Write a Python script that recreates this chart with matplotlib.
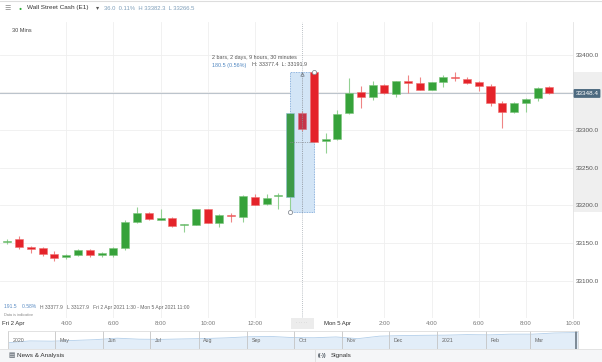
import matplotlib.pyplot as plt
import numpy as np
from matplotlib.patches import Rectangle
import matplotlib.transforms as mtrans

plt.rcParams['font.family'] = ['Liberation Sans', 'DejaVu Sans']

# 30 min candles, Fri 2 Apr 1:30 -> Mon 5 Apr 9:00
opens = [33151, 33155.5, 33145.3, 33143.2, 33135.3, 33131.3, 33133.9, 33140.6, 33134.6, 33134.3,
         33143.2, 33178, 33190.4, 33181, 33183, 33173.8, 33174, 33194.9, 33177.1, 33187.7,
         33184.7, 33211.6, 33201.5, 33212, 33211.6, 33322.1, 33377.4, 33285.4, 33287.7, 33322.1,
         33349.9, 33343.7, 33359.6, 33348.1, 33364, 33361.9, 33353, 33364, 33370.6, 33367.6,
         33363.2, 33358.3, 33335.4, 33323.5, 33335.4, 33342, 33356.6]
highs = [33156, 33159.5, 33146.5, 33144.5, 33139.6, 33135.5, 33142, 33142, 33137.7, 33144.5,
         33180.7, 33198.3, 33191.7, 33195, 33185, 33176, 33195.5, 33195.5, 33188, 33189.6,
         33213.8, 33214.8, 33214.8, 33216.9, 33323, 33325, 33377.4, 33296.4, 33326.5, 33368.5,
         33358.3, 33365.3, 33360.5, 33365, 33372.9, 33369.8, 33363.8, 33372.9, 33376.5, 33370.6,
         33364.4, 33361, 33338.4, 33337.5, 33342.5, 33356.5, 33358.3]
lows = [33149, 33142, 33136.6, 33133, 33126.8, 33129.5, 33133, 33131.3, 33132, 33131.3,
        33141, 33177, 33180.8, 33180.5, 33171.9, 33164.4, 33173.5, 33176.5, 33171.9, 33178.5,
        33178.5, 33200, 33201, 33194.9, 33191.9, 33298, 33284.5, 33270, 33287, 33321.5,
        33329.6, 33339.8, 33348, 33343.3, 33349.4, 33352.5, 33352.5, 33357.4, 33365, 33360.5,
        33352.1, 33332.2, 33303, 33322.5, 33323.5, 33338.8, 33347.5]
closes = [33153, 33144.5, 33142.7, 33135.3, 33130.4, 33134.8, 33141, 33134, 33135.8, 33143.6,
          33178.5, 33190.4, 33181.6, 33183, 33173.2, 33175, 33194.9, 33177.1, 33187.3, 33186,
          33212.5, 33200.6, 33209.9, 33213.2, 33322.1, 33300.9, 33284.5, 33287.6, 33321.2, 33348.6,
          33344.1, 33359.6, 33348.6, 33364.5, 33362.7, 33353, 33363.2, 33370.6, 33368.5, 33361.9,
          33358.7, 33335.4, 33323.5, 33335.4, 33341.5, 33355.7, 33348.6]
selected = [24, 25]

time_ticks = [5, 9, 13, 17, 21, 28, 32, 36, 40, 44, 48]
time_labels = ['4:00', '6:00', '8:00', '10:00', '12:00', 'Mon 5 Apr', '2:00', '4:00', '6:00', '8:00', '10:00']
price_ticks = [33100, 33150, 33200, 33250, 33300, 33350, 33400]
last_price = 33348.4
measure_lo, measure_hi = 33191.9, 33377.4

# navigator (Apr 2020 - Mar 2021)
nav_days = [0, 14, 28, 42, 56, 70, 84, 98, 112, 126, 140, 154, 168, 182, 196, 210, 224, 238,
            252, 266, 280, 294, 308, 322, 336, 350, 365]
nav_vals = [21900, 24000, 23700, 24500, 25400, 27000, 25900, 25700, 26200, 26600, 27400, 28600,
            29000, 27700, 27500, 28400, 26500, 29300, 29900, 30200, 30400, 31000, 30700, 31500,
            31500, 32800, 33300]
month_days = [0, 30, 61, 91, 122, 153, 183, 214, 244, 275, 306, 334]
month_labels = ['2020', 'May', 'Jun', 'Jul', 'Aug', 'Sep', 'Oct', 'Nov', 'Dec', '2021', 'Feb', 'Mar']

W, H = 602, 362


def rect(x0, y0, x1, y1):
    return [x0 / W, 1 - y1 / H, (x1 - x0) / W, (y1 - y0) / H]


def fy(y):
    return 1 - y / H


GREEN, RED = '#36a23a', '#e4232a'
GREEN_W, RED_W = '#93d193', '#ef8585'

fig = plt.figure(figsize=(W / 100, H / 100), dpi=100)

# main chart
ax = fig.add_axes(rect(0, 22, 573, 318))
ax.set_xlim(-0.62, 47.94)
ax.set_ylim(33050.8, 33443.1)
ax.grid(color='#efefef', lw=0.6, zorder=0)
ax.set_axisbelow(True)
for s in ['top', 'left', 'bottom']:
    ax.spines[s].set_visible(False)
ax.spines['right'].set_color('#e3e3e3')
ax.spines['right'].set_linewidth(0.6)

ax.yaxis.tick_right()
ax.set_yticks(price_ticks)
ax.set_yticklabels(['%.1f' % p for p in price_ticks])
ax.tick_params(axis='y', length=0, pad=2, labelsize=4.6, labelcolor='#555555')
ax.set_xticks(time_ticks)
ax.set_xticklabels(time_labels)
ax.tick_params(axis='x', length=0, pad=2.2, labelsize=4.3, labelcolor='#777777')
ax.get_xticklabels()[5].set_color('#333333')

# crosshair and measure box (under the candles)
ax.axvline(25, color='#a5acb3', lw=0.6, ls=(0, (1, 1.5)), zorder=2)
ax.add_patch(Rectangle((24, measure_lo), 2, measure_hi - measure_lo, fc='#d3e5f6',
                       ec='#6f9fd6', lw=0.6, ls=(0, (1, 1)), zorder=2.2))

idx = np.arange(len(opens))
o = np.array(opens); c = np.array(closes)
up = c >= o
body_lo = np.minimum(o, c)
body_h = np.maximum(np.abs(c - o), 1.8)
for i in idx:
    if i in selected:
        col = '#3d9a47' if up[i] else '#c5354a'
        ecol = '#8fbfd8' if up[i] else '#d8707f'
    else:
        col = GREEN if up[i] else RED
        ecol = '#7cc47c' if up[i] else '#f07070'
    ax.vlines(i, lows[i], highs[i], color=GREEN_W if up[i] else RED_W, lw=0.8, zorder=3)
    ax.bar(i, body_h[i], bottom=body_lo[i], width=0.68, color=col, edgecolor=ecol,
           lw=0.4, zorder=3)

ax.vlines(25, measure_lo, measure_hi, color='#8a8f96', lw=0.6, linestyles=(0, (1, 1.2)), zorder=4.5)
ax.hlines(closes[26], 24, 26, color='#8a8f96', lw=0.6, linestyles=(0, (1, 1.2)), zorder=4.5)
ax.plot([24, 26], [measure_lo, measure_hi], 'o', ms=3, mfc='white', mec='#8a8f96', mew=0.6,
        zorder=6, ls='none')
ax.plot([25], [measure_hi - 3], '^', ms=2.5, mfc='none', mec='#6f7780', mew=0.5, zorder=6)

# last price line
ax.axhline(last_price, color='#bcc4cc', lw=0.8, zorder=2)
bt = mtrans.blended_transform_factory(ax.transAxes, ax.transData)
ax.add_patch(Rectangle((1.0, measure_lo), 29 / 573, measure_hi - measure_lo, transform=bt,
                       fc='#efefef', ec='none', zorder=0.5, clip_on=False))
ax.text(587 / 573, last_price, '%.1f' % last_price, transform=bt, ha='center', va='center',
        fontsize=4.6, color='white', zorder=6, clip_on=False,
        bbox=dict(boxstyle='round,pad=0.3,rounding_size=0.15', fc='#4d6a80', ec='none'))

bx = mtrans.blended_transform_factory(ax.transData, ax.transAxes)
ax.add_patch(Rectangle((24.05, -0.036), 1.95, 0.036, transform=bx, fc='#ececec', ec='none',
                       clip_on=False, zorder=1))
ax.text(25, -0.018, '· · · · ·', transform=bx, ha='center', va='center', fontsize=3,
        color='#999999', clip_on=False)

fig.text(212 / W, fy(57), '2 bars, 2 days, 9 hours, 30 minutes', fontsize=3.9, color='#555555',
         va='center')
fig.text(212 / W, fy(65), '180.5 (0.56%)', fontsize=3.9, color='#4f86c0', va='center')
fig.text(252 / W, fy(65), 'H: 33377.4  L: 33191.9', fontsize=3.9, color='#555555', va='center')

# header
fig.add_artist(plt.Line2D([0, 1], [fy(0.5), fy(0.5)], color='#dddddd', lw=0.8))
fig.text(4 / W, fy(8), '☰', fontsize=5, color='#8a8a8a', va='center')
fig.text(18.5 / W, fy(8), '●', fontsize=3.6, color='#2fae3a', va='center')
fig.text(27 / W, fy(8), 'Wall Street Cash (E1)', fontsize=4.6, color='#333333', va='center')
fig.text(96 / W, fy(8), '▾', fontsize=4.5, color='#555555', va='center')
fig.text(104 / W, fy(8), '36.0  0.11%  H 33382.3  L 33266.5', fontsize=4.2, color='#7f9fba',
         va='center')
fig.text(12 / W, fy(31), '30 Mins', fontsize=4, color='#444444', va='center')

# info rows above time axis
fig.text(4 / W, fy(307), '191.5    0.58%', fontsize=3.6, color='#5a8cc4', va='center')
fig.text(40 / W, fy(307), 'H 33377.9   L 33127.9   Fri 2 Apr 2021 1:30 - Mon 5 Apr 2021 11:00',
         fontsize=3.6, color='#666666', va='center')
fig.text(4 / W, fy(315), 'Data is indicative', fontsize=2.8, color='#888888', va='center')
fig.text(2 / W, fy(324), 'Fri 2 Apr', fontsize=4.3, color='#333333', va='center')

# navigator
nav = fig.add_axes(rect(8, 331, 578, 349))
nav.fill_between(nav_days, nav_vals, 15000, color='#e2edf8', lw=0)
nav.plot(nav_days, nav_vals, color='#b3cfea', lw=0.6)
nav.set_xlim(0, 365)
nav.set_ylim(15000, 35000)
nav.vlines(month_days, 15000, 35000, color='#c4c4c4', lw=0.6)
for d, lab in zip(month_days, month_labels):
    nav.text(d + 3, 24500, lab, fontsize=3.8, color='#666666', va='center')
nav.axvline(364, color='#7d8a96', lw=1.4)
nav.set_xticks([])
nav.set_yticks([])
for s in nav.spines.values():
    s.set_color('#d6d6d6')
    s.set_linewidth(0.5)

# bottom bar
bar = fig.add_axes(rect(0, 349, 602, 362))
bar.set_facecolor('#f5f6f8')
bar.set_xticks([])
bar.set_yticks([])
for s in ['left', 'right', 'bottom']:
    bar.spines[s].set_visible(False)
bar.spines['top'].set_color('#e0e0e0')
bar.spines['top'].set_linewidth(0.6)
fig.text(8 / W, fy(355.5), '▤', fontsize=4.8, color='#3c4650', va='center')
fig.text(17 / W, fy(355.5), 'News & Analysis', fontsize=4.6, color='#333333', va='center')
fig.add_artist(plt.Line2D([315 / W, 315 / W], [fy(350), fy(361)], color='#dddddd', lw=0.6))
fig.text(318 / W, fy(355.5), '((·))', fontsize=3.6, color='#3c4650', va='center', weight='bold')
fig.text(331 / W, fy(355.5), 'Signals', fontsize=4.6, color='#333333', va='center')

fig.savefig('out.png', dpi=100)
